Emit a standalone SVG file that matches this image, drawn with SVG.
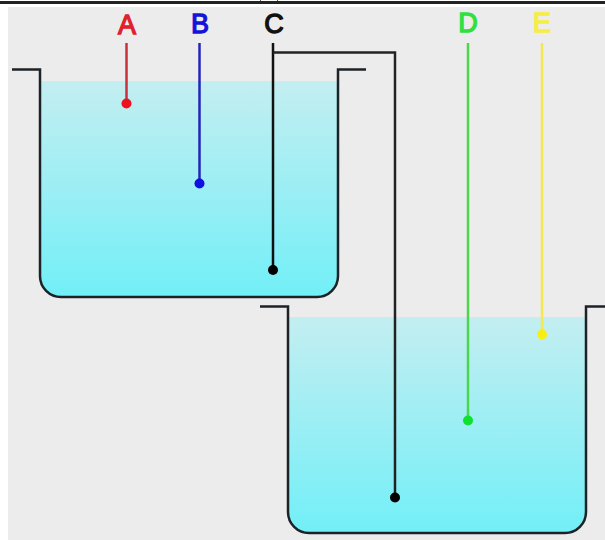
<svg xmlns="http://www.w3.org/2000/svg" width="605" height="540" viewBox="0 0 605 540">
<style>
.wall{fill:none;stroke:#1c2226;stroke-width:2.5}
.probe{fill:none;stroke-width:2.5}
.lbl{font-family:"Liberation Sans",Arial,sans-serif;font-size:27px;font-weight:400;text-anchor:middle;stroke-width:1.3}
</style>
<defs>
<linearGradient id="water" x1="0" y1="0" x2="0" y2="1"><stop offset="0" stop-color="#c4eef1"/><stop offset="1" stop-color="#72eff7"/></linearGradient>
</defs>
<rect width="605" height="540" fill="#fff"/>
<rect x="8" y="7" width="597" height="533" fill="#ececec"/>
<rect x="0" y="1" width="605" height="3" fill="#222"/>
<path d="M260.500 0V1M277.500 0V1" stroke="#555" fill="none"/>
<g id="tank-1">
<path d="M40 81H338V276a21 21 0 0 1-21 21H61a21 21 0 0 1-21-21Z" fill="url(#water)"/>
<path class="wall" d="M12 69.500H40V276a21 21 0 0 0 21 21H317a21 21 0 0 0 21-21V69.500H366"/>
</g>
<g id="tank-2">
<path d="M288 317H586V512a21 21 0 0 1-21 21H309a21 21 0 0 1-21-21Z" fill="url(#water)"/>
<path class="wall" d="M260 306.500H288V512a21 21 0 0 0 21 21H565a21 21 0 0 0 21-21V306.500H605"/>
</g>
<g id="connectors">
<path class="probe" stroke="#c8303c" d="M126.500 43V103"/>
<path class="probe" stroke="#2424b8" d="M199.500 43V183"/>
<path class="probe" stroke="#111" d="M273 43V270"/>
<path class="probe" stroke="#222" d="M273 52.500H395V497"/>
<path class="probe" stroke="#4cd64c" d="M468 43V420"/>
<path class="probe" stroke="#f4e850" d="M542 43V334"/>
</g>
<g id="probe-a"><circle cx="126.500" cy="103.500" r="5" fill="#f01020"/><text class="lbl" x="127" y="34" fill="#e0202c" stroke="#e0202c">A</text></g>
<g id="probe-b"><circle cx="199.500" cy="183.500" r="5" fill="#1010e0"/><text class="lbl" x="200" y="33" fill="#1414d8" stroke="#1414d8">B</text></g>
<g id="probe-c"><circle cx="273" cy="270" r="5" fill="#000"/><text class="lbl" x="274" y="33" fill="#111" stroke="#111">C</text></g>
<g id="probe-c2"><circle cx="395" cy="497.500" r="5" fill="#000"/></g>
<g id="probe-d"><circle cx="468" cy="420.500" r="5" fill="#10e030"/><text class="lbl" x="468" y="32" fill="#30e040" stroke="#30e040">D</text></g>
<g id="probe-e"><circle cx="542" cy="334.500" r="5" fill="#f8ee10"/><text class="lbl" x="542" y="32" fill="#f6ee40" stroke="#f6ee40">E</text></g>
</svg>
